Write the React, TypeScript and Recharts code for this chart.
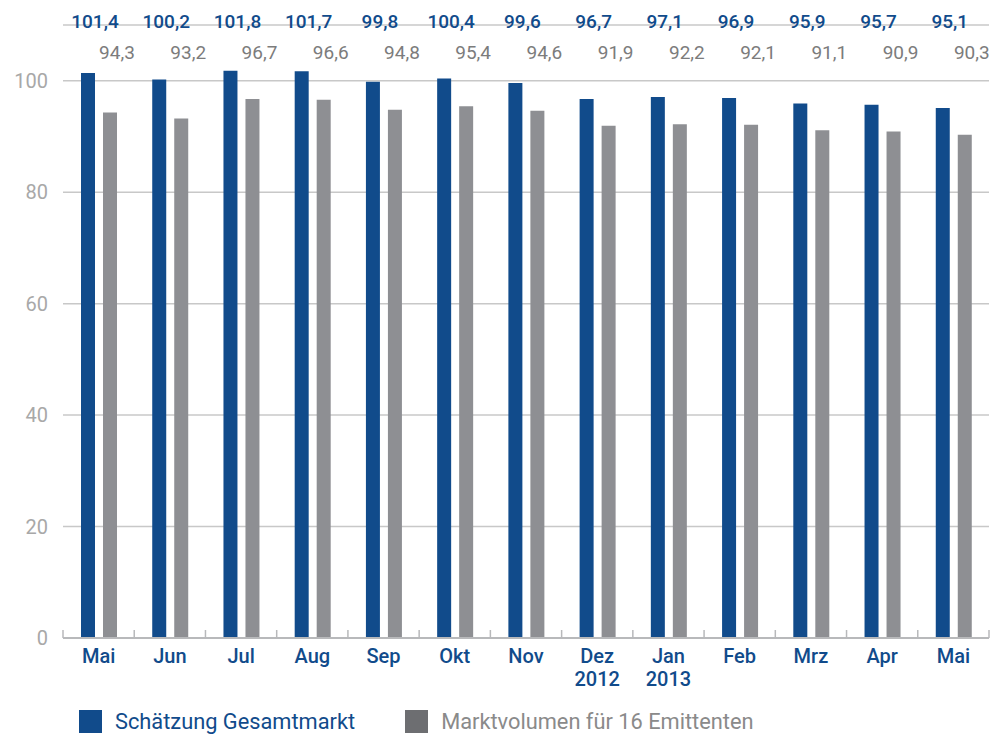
import { Bar, BarChart, CartesianGrid, LabelList, Legend, XAxis, YAxis } from 'recharts'

const months = ['Mai', 'Jun', 'Jul', 'Aug', 'Sep', 'Okt', 'Nov', 'Dez', 'Jan', 'Feb', 'Mrz', 'Apr', 'Mai']
const years = ['', '', '', '', '', '', '', '2012', '2013', '', '', '', '']
const gesamtmarkt = [101.4, 100.2, 101.8, 101.7, 99.8, 100.4, 99.6, 96.7, 97.1, 96.9, 95.9, 95.7, 95.1]
const emittenten = [94.3, 93.2, 96.7, 96.6, 94.8, 95.4, 94.6, 91.9, 92.2, 92.1, 91.1, 90.9, 90.3]
const yTicks = [0, 20, 40, 60, 80, 100]

const BLUE = '#114b8b'
const GRAY = '#8e8f93'
const FONT = 'Roboto, "DejaVu Sans", sans-serif'

const W = 991
const H = 737
const LEFT = 63
const RIGHT = 2
const step = (W - LEFT - RIGHT) / months.length

const data = months.map((m, i) => ({
  key: i,
  month: m,
  year: years[i],
  gesamt: gesamtmarkt[i],
  emit: emittenten[i],
}))

const fmt = (v: number) => v.toFixed(1).replace('.', ',')

function MonthTick(props: any) {
  const { x, y, payload, index } = props
  const d = data[payload.value]
  return (
    <g>
      <line x1={x - step / 2} x2={x - step / 2} y1={y} y2={y - 8} stroke='#b8b9bb' strokeWidth={1.5} />
      {index === months.length - 1 && (
        <line x1={x + step / 2} x2={x + step / 2} y1={y} y2={y - 8} stroke='#b8b9bb' strokeWidth={1.5} />
      )}
      <text x={x} y={y + 25} textAnchor='middle' fill={BLUE} fontSize={20} fontWeight={500} fontFamily={FONT}>
        {d.month}
      </text>
      {d.year && (
        <text x={x} y={y + 48} textAnchor='middle' fill={BLUE} fontSize={20} fontWeight={500} fontFamily={FONT}>
          {d.year}
        </text>
      )}
    </g>
  )
}

const topLabel = (color: string, baseline: number, weight: number) => (props: any) => {
  const { x, width, value } = props
  return (
    <text
      x={Number(x) + Number(width) / 2 + 7}
      y={baseline}
      textAnchor='middle'
      fill={color}
      fontSize={19}
      fontWeight={weight}
      fontFamily={FONT}
    >
      {fmt(Number(value))}
    </text>
  )
}

function LegendBox() {
  const item = (color: string, text: string, textColor: string, ml: number) => (
    <div style={{ display: 'flex', alignItems: 'center', marginLeft: ml, height: 23 }}>
      <div style={{ width: 23, height: 23, background: color, marginRight: 13 }} />
      <span style={{ color: textColor, fontSize: 21.8, lineHeight: '23px', fontFamily: FONT }}>{text}</span>
    </div>
  )
  return (
    <div style={{ display: 'flex', alignItems: 'flex-start', height: 39, paddingTop: 12, boxSizing: 'border-box' }}>
      {item(BLUE, 'Schätzung Gesamtmarkt', BLUE, 71)}
      {item('#6d6e71', 'Marktvolumen für 16 Emittenten', '#8a8a8a', 50)}
    </div>
  )
}

export default function App() {
  return (
    <div style={{ position: 'absolute', left: 0, top: 0, width: W, height: H, background: '#fff', overflow: 'hidden' }}>
      <BarChart
        width={W}
        height={H}
        data={data}
        margin={{ top: 25, right: RIGHT, left: 8, bottom: 0 }}
        barSize={14}
        barGap={8}
      >
        <CartesianGrid vertical={false} stroke='#c8c8c8' strokeWidth={1.5} />
        <XAxis
          dataKey='key'
          height={60}
          tickLine={false}
          tickSize={0}
          tickMargin={0}
          axisLine={{ stroke: '#b8b9bb', strokeWidth: 2 }}
          interval={0}
          tick={<MonthTick />}
        />
        <YAxis
          width={55}
          domain={[0, 110]}
          ticks={yTicks}
          axisLine={false}
          tickLine={false}
          tickSize={0}
          tickMargin={15}
          tick={{ fill: '#a8a8a8', fontSize: 20, fontFamily: FONT }}
        />
        <Legend verticalAlign='bottom' height={39} content={() => <LegendBox />} />
        <Bar dataKey='gesamt' fill={BLUE} isAnimationActive={false}>
          <LabelList dataKey='gesamt' content={topLabel(BLUE, 28, 500)} />
        </Bar>
        <Bar dataKey='emit' fill={GRAY} isAnimationActive={false}>
          <LabelList dataKey='emit' content={topLabel('#7c7c7c', 59, 400)} />
        </Bar>
      </BarChart>
    </div>
  )
}
